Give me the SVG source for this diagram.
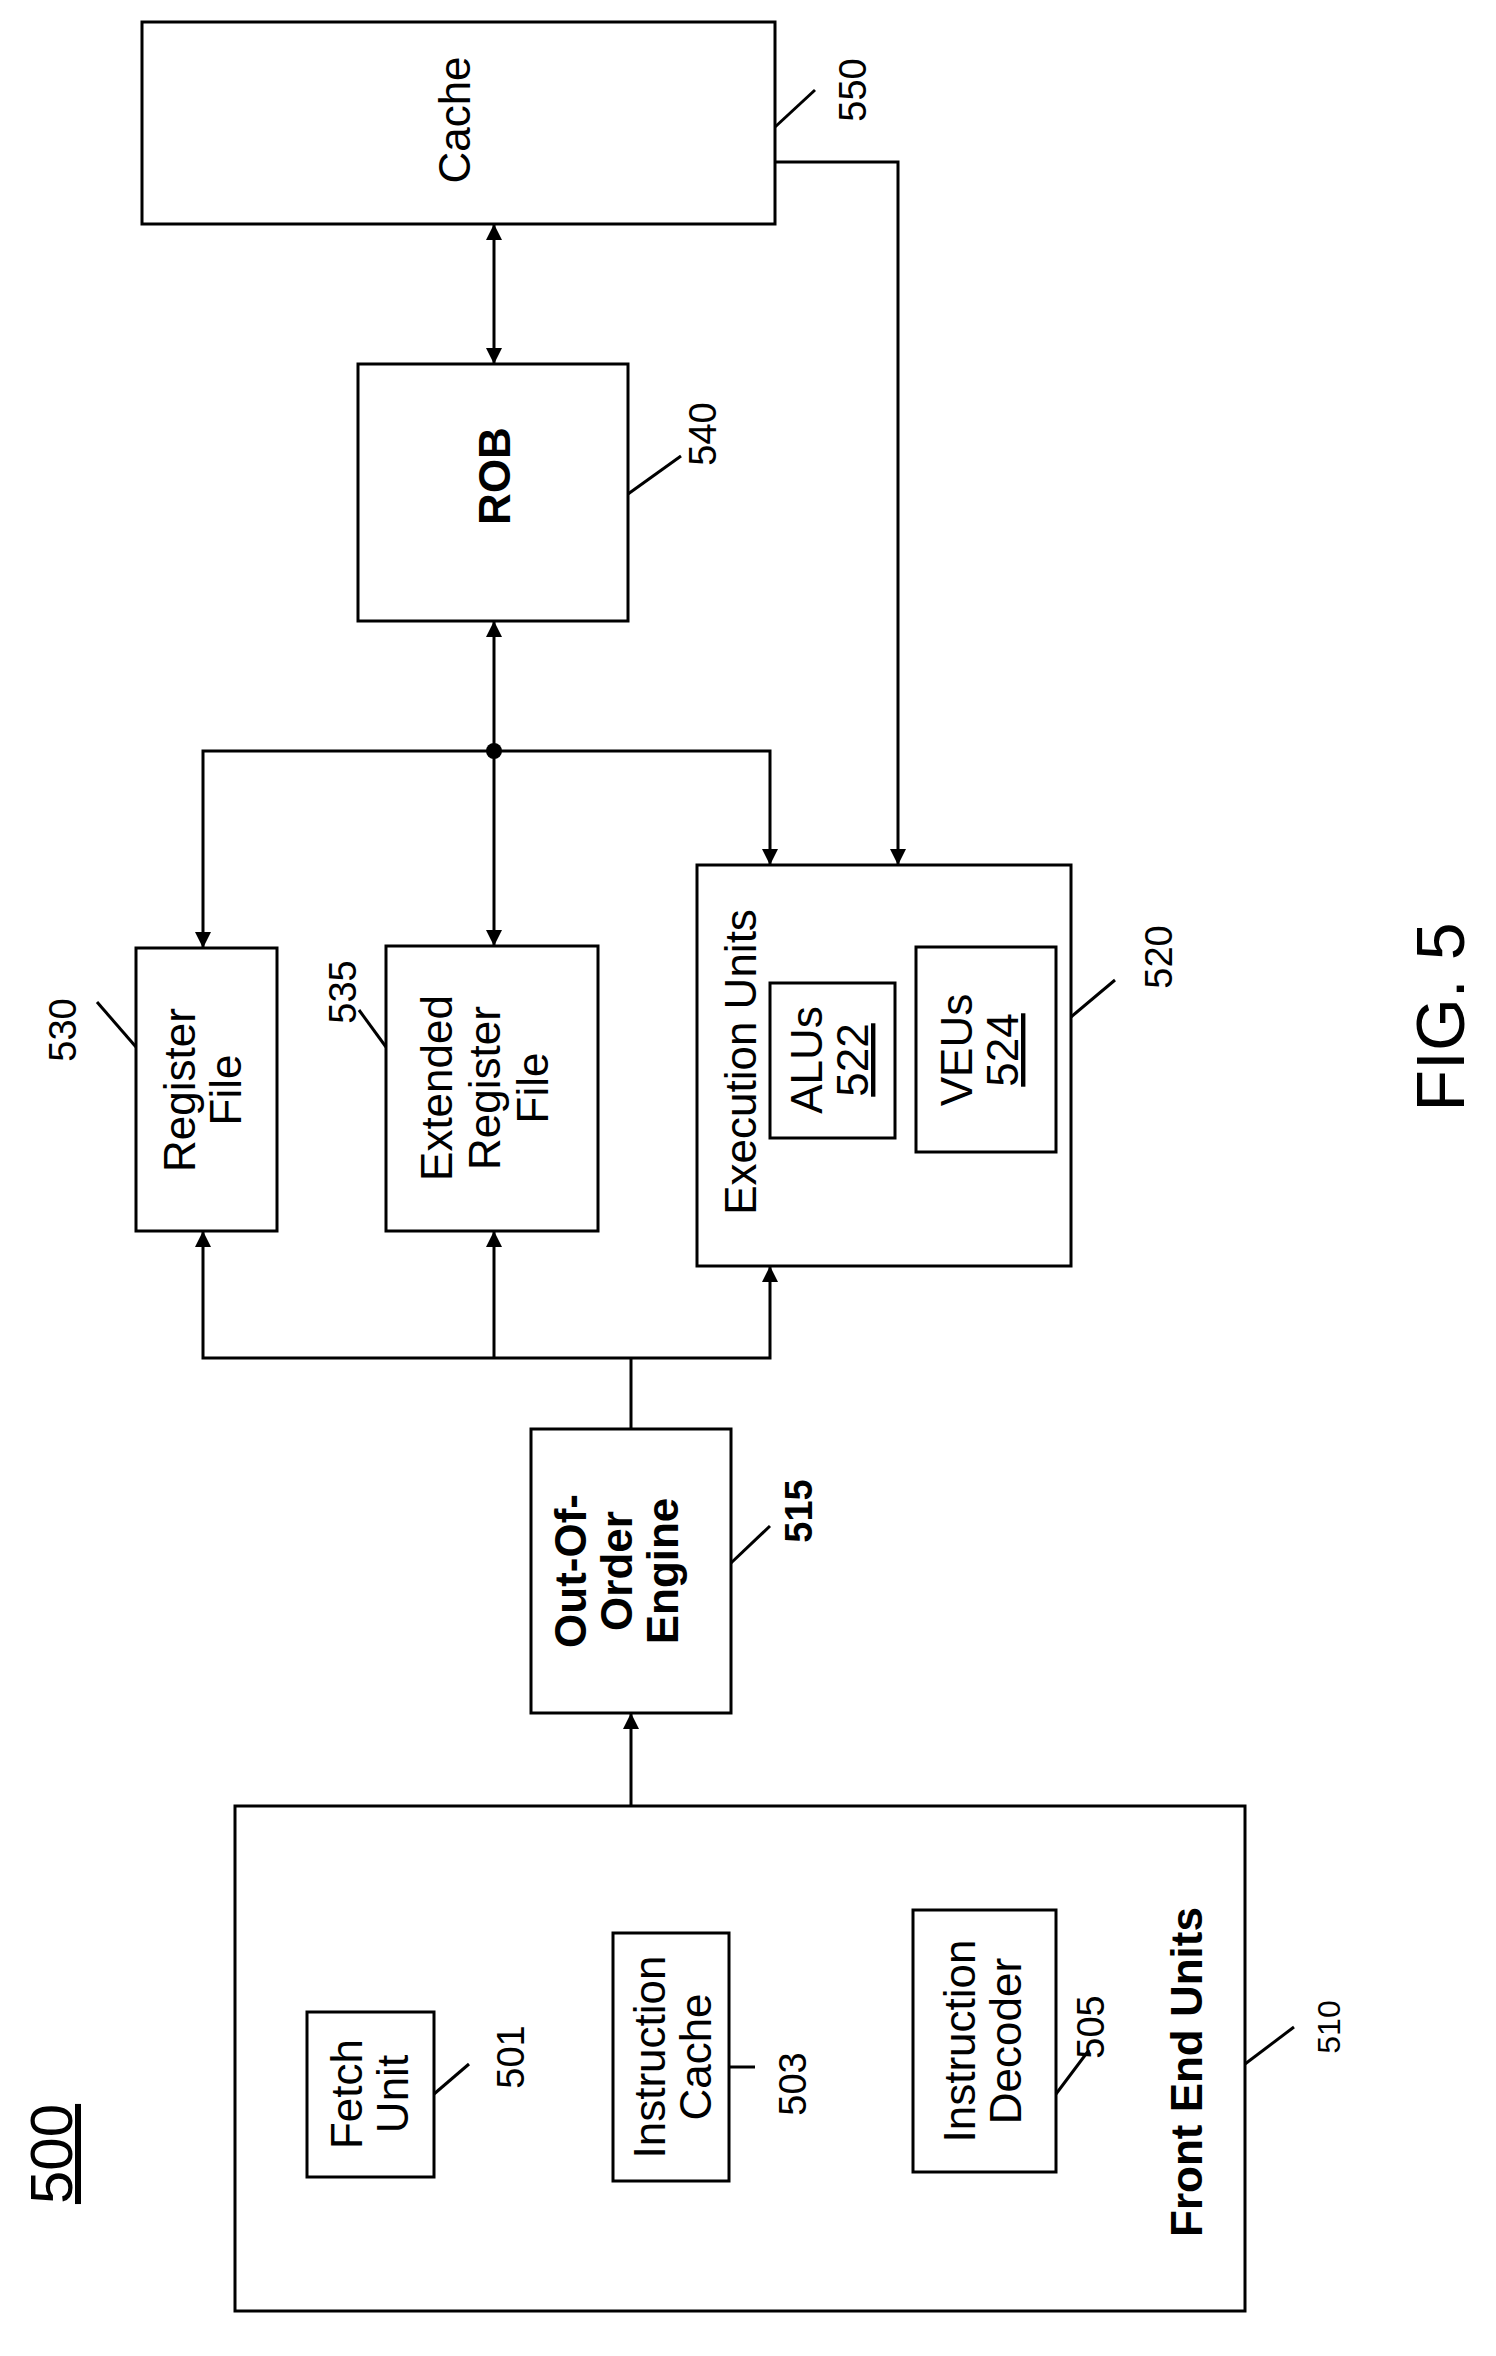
<svg xmlns="http://www.w3.org/2000/svg" width="1496" height="2356" viewBox="0 0 1496 2356">
<style>
rect{fill:#fff;stroke:#000;stroke-width:3}
line,polyline{fill:none;stroke:#000;stroke-width:3}
.ah{fill:#000;stroke:none}
text{font-family:"Liberation Sans",Arial,sans-serif;font-size:44px;fill:#000;text-anchor:middle}
.b{font-weight:bold}
.n{font-size:38px}
</style>
<defs>
<marker id="ar" viewBox="0 0 10 10" refX="10" refY="5" markerWidth="22" markerHeight="16" orient="auto-start-reverse" markerUnits="userSpaceOnUse"><path class="ah" d="M0,0 L10,5 L0,10 z"/></marker>
</defs>
<g id="n550"><rect x="142" y="22" width="633" height="202"/><text transform="translate(470,120) rotate(-90)">Cache</text><text class="n" transform="translate(866,90) rotate(-90)">550</text></g>
<g id="n540"><rect x="358" y="364" width="270" height="257"/><text class="b" transform="translate(510,476) rotate(-90)">ROB</text><text class="n" transform="translate(716,434) rotate(-90)">540</text></g>
<g id="n530"><rect x="136" y="948" width="141" height="283"/><text transform="translate(195,1090) rotate(-90)"><tspan x="0" dy="0">Register</tspan><tspan x="0" dy="46">File</tspan></text><text class="n" transform="translate(76,1030) rotate(-90)">530</text></g>
<g id="n535"><rect x="386" y="946" width="212" height="285"/><text transform="translate(452,1088) rotate(-90)"><tspan x="0" dy="0">Extended</tspan><tspan x="0" dy="48">Register</tspan><tspan x="0" dy="48">File</tspan></text><text class="n" transform="translate(356,992) rotate(-90)">535</text></g>
<g id="n520"><rect x="697" y="865" width="374" height="401"/><text transform="translate(756,1062) rotate(-90)">Execution Units</text>
<g id="n522"><rect x="770" y="983" width="125" height="155"/><text transform="translate(822,1060) rotate(-90)"><tspan x="0" dy="0">ALUs</tspan><tspan x="0" dy="46" text-decoration="underline">522</tspan></text></g>
<g id="n524"><rect x="916" y="947" width="140" height="205"/><text transform="translate(972,1050) rotate(-90)"><tspan x="0" dy="0">VEUs</tspan><tspan x="0" dy="46" text-decoration="underline">524</tspan></text></g>
<text class="n" transform="translate(1172,957) rotate(-90)">520</text></g>
<g id="n515"><rect x="531" y="1429" width="200" height="284"/><text class="b" transform="translate(586,1571) rotate(-90)"><tspan x="0" dy="0">Out-Of-</tspan><tspan x="0" dy="46">Order</tspan><tspan x="0" dy="46">Engine</tspan></text><text class="n b" transform="translate(812,1511) rotate(-90)">515</text></g>
<g id="n510"><rect x="235" y="1806" width="1010" height="505"/><text class="b" transform="translate(1202,2072) rotate(-90)">Front End Units</text><text class="n" transform="translate(1340,2027) rotate(-90)" style="font-size:32px">510</text>
<g id="n501"><rect x="307" y="2012" width="127" height="165"/><text transform="translate(362,2094) rotate(-90)"><tspan x="0" dy="0">Fetch</tspan><tspan x="0" dy="46">Unit</tspan></text><text class="n" transform="translate(524,2057) rotate(-90)">501</text></g>
<g id="n503"><rect x="613" y="1933" width="116" height="248"/><text transform="translate(665,2057) rotate(-90)"><tspan x="0" dy="0">Instruction</tspan><tspan x="0" dy="46">Cache</tspan></text><text class="n" transform="translate(806,2084) rotate(-90)">503</text></g>
<g id="n505"><rect x="913" y="1910" width="143" height="262"/><text transform="translate(975,2041) rotate(-90)"><tspan x="0" dy="0">Instruction</tspan><tspan x="0" dy="46">Decoder</tspan></text><text class="n" transform="translate(1104,2027) rotate(-90)">505</text></g>
</g>
<g id="connectors">
<polyline points="775,162 898,162 898,865" marker-end="url(#ar)"/>
<line x1="494" y1="224" x2="494" y2="364" marker-start="url(#ar)" marker-end="url(#ar)"/>
<line x1="494" y1="751" x2="494" y2="621" marker-end="url(#ar)"/>
<polyline points="203,948 203,751 770,751 770,865" marker-start="url(#ar)" marker-end="url(#ar)"/>
<line x1="494" y1="751" x2="494" y2="946" marker-end="url(#ar)"/>
<circle cx="494" cy="751" r="8" fill="#000"/>
<polyline points="203,1231 203,1358 770,1358 770,1266" marker-start="url(#ar)" marker-end="url(#ar)"/>
<line x1="494" y1="1358" x2="494" y2="1231" marker-end="url(#ar)"/>
<line x1="631" y1="1429" x2="631" y2="1358"/>
<line x1="631" y1="1806" x2="631" y2="1713" marker-end="url(#ar)"/>
<line x1="775" y1="127" x2="815" y2="90"/>
<line x1="628" y1="494" x2="681" y2="456"/>
<line x1="1071" y1="1017" x2="1115" y2="980"/>
<line x1="136" y1="1047" x2="97" y2="1002"/>
<line x1="386" y1="1047" x2="359" y2="1010"/>
<line x1="731" y1="1563" x2="770" y2="1526"/>
<line x1="434" y1="2094" x2="469" y2="2064"/>
<line x1="729" y1="2067" x2="755" y2="2067"/>
<line x1="1056" y1="2094" x2="1089" y2="2050"/>
<line x1="1245" y1="2064" x2="1294" y2="2027"/>
</g>
<text transform="translate(72,2154) rotate(-90)" style="font-size:60px" text-decoration="underline">500</text>
<text transform="translate(1464,1017) rotate(-90)" style="font-size:68px">FIG. 5</text>
</svg>
